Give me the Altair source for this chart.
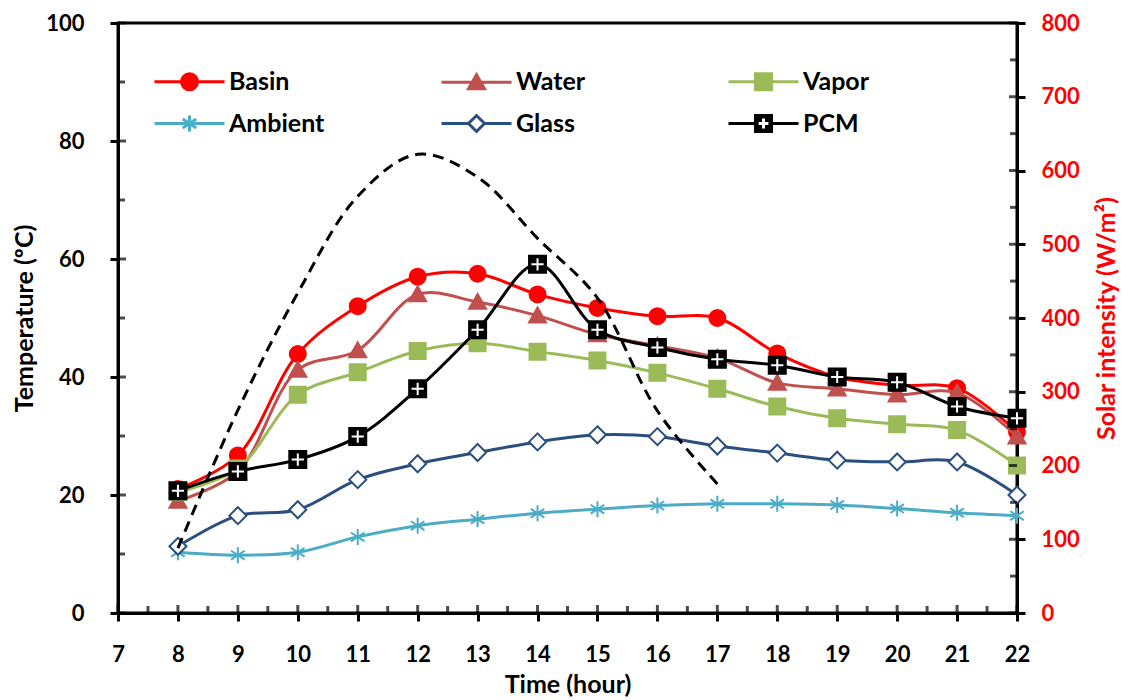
import altair as alt
import pandas as pd

# ---- data -------------------------------------------------------------
hours = list(range(8, 23))
basin = [21.0, 26.7, 43.9, 52.0, 57.0, 57.5, 54.0, 51.7, 50.3, 50.0, 44.0, 40.0, 38.6, 38.1, 30.7]
water = [19.0, 24.0, 41.2, 44.5, 54.0, 52.7, 50.4, 47.2, 45.3, 43.2, 39.0, 38.0, 37.0, 37.3, 29.9]
vapor = [20.5, 24.5, 37.0, 40.8, 44.4, 45.7, 44.3, 42.8, 40.7, 38.0, 35.0, 33.0, 32.0, 31.0, 25.0]
ambient = [10.3, 9.8, 10.3, 12.9, 14.8, 15.9, 16.9, 17.6, 18.2, 18.5, 18.5, 18.3, 17.7, 17.0, 16.5]
glass = [11.3, 16.5, 17.5, 22.6, 25.3, 27.2, 29.0, 30.2, 29.9, 28.3, 27.1, 25.9, 25.6, 25.6, 20.0]
pcm = [20.7, 24.0, 26.0, 29.9, 38.0, 48.0, 59.1, 48.0, 45.0, 43.0, 42.0, 40.0, 39.1, 35.0, 33.0]

solar_hours = list(range(8, 18))
solar = [88, 275, 434, 565, 622, 591, 508, 427, 274, 175]

series_names = ["Basin", "Water", "Vapor", "Ambient", "Glass", "PCM"]
series_values = [basin, water, vapor, ambient, glass, pcm]
line_colors = ["#FF0000", "#C0504D", "#9BBB59", "#4BACC6", "#2A4F7F", "#000000"]
fill_colors = ["#FF0000", "#C0504D", "#9BBB59", "#4BACC6", "#FFFFFF", "#000000"]

x_ticks = list(range(7, 23))
x_minor = [h + 0.5 for h in range(7, 22)]
t_ticks = list(range(0, 101, 20))
t_minor = list(range(10, 100, 20))
s_ticks = list(range(0, 801, 100))
s_minor = list(range(50, 800, 100))

FONT = "Lato"


# ---- marker shapes (unit box, scaled by sqrt(size)/2) -------------------
def fmt(v):
    s = f"{v:.3f}".rstrip("0").rstrip(".")
    return "0" if s in ("-0", "") else s


def poly(pts, k=1.0):
    return "M" + "L".join(f"{fmt(x * k)},{fmt(y * k)}" for x, y in pts) + "Z"


def circle(k=1.0):
    return (f"M{fmt(k)},0A{fmt(k)},{fmt(k)} 0 1,1 {fmt(-k)},0"
            f"A{fmt(k)},{fmt(k)} 0 1,1 {fmt(k)},0Z")


TRI = [(0, -0.95), (1.0, 0.8), (-1.0, 0.8)]
SQR = [(-1, -1), (1, -1), (1, 1), (-1, 1)]
DIA = [(0, -1), (1, 0), (0, 1), (-1, 0)]


def plus_hole(w, L):
    # counter-wound so it cuts a hole through the square
    return [(-w, -L), (-w, -w), (-L, -w), (-L, w), (-w, w), (-w, L),
            (w, L), (w, w), (L, w), (L, -w), (w, -w), (w, -L)]


def star(k=1.0):
    a, b = 0.85 * k, 0.55 * k
    return (f"M0,{fmt(-k)}V{fmt(k)}M{fmt(-a)},{fmt(-b)}L{fmt(a)},{fmt(b)}"
            f"M{fmt(-a)},{fmt(b)}L{fmt(a)},{fmt(-b)}")


marker_paths = [circle(), poly(TRI), poly(SQR), star(), poly(DIA), poly(SQR)]
marker_sizes = [256, 289, 256, 256, 289, 289]
PLUS = "M-0.72,0H0.72M0,-0.72V0.72"   # white cross on the PCM squares

# legend keys: symbol box of 40 px (20 px/unit); the key line runs 70 px wide
KEY_SIZE = 1600
HALF = 1.75            # half line length in units (35 px)
k = 8.0 / 20.0         # marker radius in units (8 px)


def seg(gap):
    if gap == 0:
        return f"M{fmt(-HALF)},0H{fmt(HALF)}"
    return f"M{fmt(-HALF)},0H{fmt(-gap)}M{fmt(gap)},0H{fmt(HALF)}"


legend_paths = [
    seg(0) + circle(k),
    seg(0) + poly(TRI, k),
    seg(0) + poly(SQR, k),
    seg(0) + star(k),
    seg(k) + poly(DIA, k),
    seg(k) + poly(SQR, k) + poly(plus_hole(0.15, 0.32), 1.0),
]

# ---- tables -----------------------------------------------------------
rows = []
for name, vals in zip(series_names, series_values):
    for h, v in zip(hours, vals):
        rows.append({"hour": h, "temp": v, "series": name})
temps = pd.DataFrame(rows)
solar_df = pd.DataFrame({"hour": solar_hours, "solar": solar})

# ---- scales & axes ----------------------------------------------------
x_scale = alt.Scale(domain=[7, 22], nice=False, zero=False)
t_scale = alt.Scale(domain=[0, 100], nice=False)
s_scale = alt.Scale(domain=[0, 800], nice=False)

common_axis = dict(
    labelFont=FONT, labelFontSize=22, labelFontWeight="bold",
    titleFont=FONT, titleFontSize=25, titleFontWeight="bold",
    tickSize=8, tickWidth=3, tickColor="black",
    domainColor="black", domainWidth=3, grid=False, labelFlush=False,
)

x_axis = alt.Axis(values=x_ticks, title="Time (hour)", format="d",
                  labelColor="black", titleColor="black",
                  labelPadding=23, titlePadding=7, **common_axis)
t_axis = alt.Axis(values=t_ticks, title="Temperature (ºC)", orient="left",
                  labelColor="black", titleColor="black",
                  labelPadding=26, titlePadding=8, **common_axis)
s_axis = alt.Axis(values=s_ticks, title="Solar intensity (W/m²)", orient="right",
                  labelColor="#FF0000", titleColor="#FF0000", titleAngle=270,
                  labelPadding=16, titlePadding=40, **common_axis)

X = alt.X("hour:Q", scale=x_scale, axis=x_axis)
Yt = alt.Y("temp:Q", scale=t_scale, axis=t_axis)

# ---- temperature side: one line + marker layer per series -------------
series_layers = []
for name, path, size, lc, fc in zip(series_names, marker_paths, marker_sizes,
                                    line_colors, fill_colors):
    base = alt.Chart(temps).transform_filter(alt.datum.series == name)
    series_layers.append(
        base.mark_line(interpolate="catmull-rom", strokeWidth=3, color=lc)
        .encode(x=X, y=Yt)
    )
    series_layers.append(
        base.mark_point(shape=path, size=size, filled=True, fill=fc, stroke=lc,
                        strokeWidth=2, opacity=1)
        .encode(x=X, y=Yt)
    )
    if name == "PCM":
        series_layers.append(
            base.mark_point(shape=PLUS, size=size, filled=False, stroke="white",
                            strokeWidth=2, opacity=1)
            .encode(x=X, y=Yt)
        )

# key layer: its marks are drawn at zero size, it only carries the legend
legend_layer = alt.Chart(temps).mark_point(filled=True, size=0).encode(
    x=X,
    y=Yt,
    shape=alt.Shape("series:N", scale=alt.Scale(domain=series_names, range=legend_paths),
                    legend=alt.Legend(
                        title=None, orient="none", legendX=50, legendY=37,
                        direction="horizontal",
                        columns=3, gridAlign="all", columnPadding=110, rowPadding=6,
                        symbolSize=KEY_SIZE, symbolStrokeWidth=3, symbolOpacity=1,
                        labelFont=FONT, labelFontSize=25, labelFontWeight="bold",
                        labelColor="black", labelOffset=18, labelLimit=300,
                    )),
    fill=alt.Fill("series:N", scale=alt.Scale(domain=series_names, range=fill_colors)),
    stroke=alt.Stroke("series:N", scale=alt.Scale(domain=series_names, range=line_colors)),
)

t_tick_df = pd.DataFrame({"hour": [7] * len(t_ticks), "temp": t_ticks})
t_minor_df = pd.DataFrame({"hour": [7] * len(t_minor), "temp": t_minor})
x_tick_df = pd.DataFrame({"hour": x_ticks, "temp": [0] * len(x_ticks)})
x_minor_df = pd.DataFrame({"hour": x_minor, "temp": [0] * len(x_minor)})

t_inner = alt.Chart(t_tick_df).mark_tick(
    orient="horizontal", size=8, thickness=3, color="black", xOffset=4
).encode(x=X, y=Yt)
t_inner_minor = alt.Chart(t_minor_df).mark_tick(
    orient="horizontal", size=7, thickness=3, color="black", xOffset=3.5
).encode(x=X, y=Yt)
x_inner = alt.Chart(x_tick_df).mark_tick(
    orient="vertical", size=8, thickness=3, color="black", yOffset=-4
).encode(x=X, y=Yt)
x_inner_minor = alt.Chart(x_minor_df).mark_tick(
    orient="vertical", size=7, thickness=3, color="black", yOffset=-3.5
).encode(x=X, y=Yt)

left = alt.layer(*series_layers, legend_layer,
                 t_inner, t_inner_minor, x_inner, x_inner_minor)

# ---- solar side -------------------------------------------------------
Ys = alt.Y("solar:Q", scale=s_scale, axis=s_axis)
solar_line = alt.Chart(solar_df).mark_line(
    interpolate="catmull-rom", strokeWidth=3, color="black", strokeDash=[11, 7]
).encode(x=X, y=Ys)

s_tick_df = pd.DataFrame({"hour": [22] * len(s_ticks), "solar": s_ticks})
s_minor_df = pd.DataFrame({"hour": [22] * len(s_minor), "solar": s_minor})
s_inner = alt.Chart(s_tick_df).mark_tick(
    orient="horizontal", size=8, thickness=3, color="black", xOffset=-4
).encode(x=X, y=Ys)
s_inner_minor = alt.Chart(s_minor_df).mark_tick(
    orient="horizontal", size=7, thickness=3, color="black", xOffset=-3.5
).encode(x=X, y=Ys)

right = alt.layer(solar_line, s_inner, s_inner_minor)

chart = alt.layer(left, right).resolve_scale(y="independent").properties(
    width=899, height=590,
    padding={"left": 118, "top": 23, "right": 113, "bottom": 87},
    autosize=alt.AutoSizeParams(type="none"),
    background="white",
).configure_view(stroke="black", strokeWidth=3)

chart.save("out.html", embed_options={"renderer": "svg", "actions": False})
